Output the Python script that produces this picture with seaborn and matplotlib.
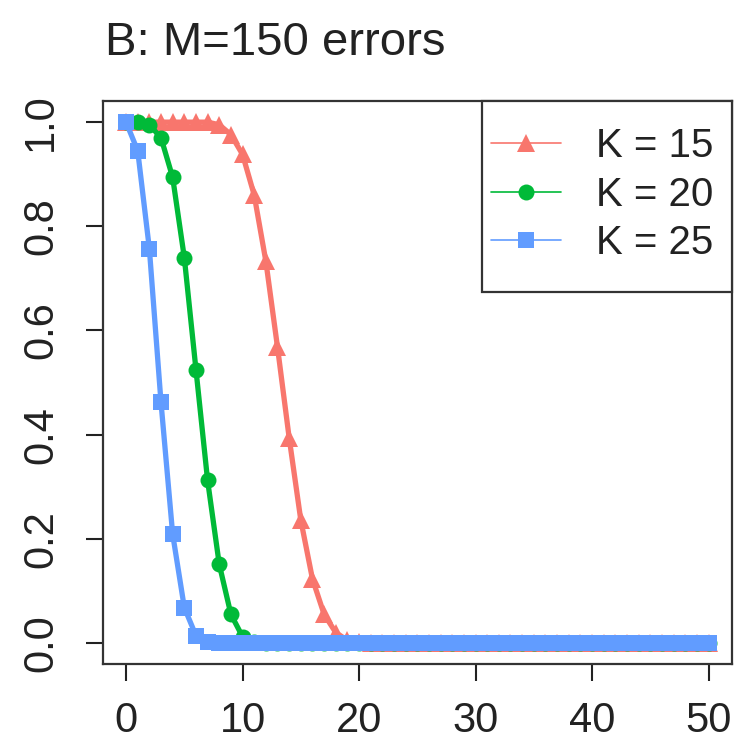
import numpy as np
import pandas as pd
import matplotlib
matplotlib.use("Agg")
import matplotlib.pyplot as plt
import seaborn as sns
from matplotlib.lines import Line2D
from matplotlib.patches import Rectangle

# ---- data ----
x_vals = list(range(0, 51))
k15 = [1.0, 1.0, 1.0, 1.0, 1.0, 1.0, 1.0, 1.0, 0.995, 0.976,
       0.938, 0.86, 0.733, 0.568, 0.394, 0.236, 0.123, 0.055, 0.02, 0.005,
       0.001, 0.0, 0.0, 0.0, 0.0, 0.0, 0.0, 0.0, 0.0, 0.0,
       0.0, 0.0, 0.0, 0.0, 0.0, 0.0, 0.0, 0.0, 0.0, 0.0,
       0.0, 0.0, 0.0, 0.0, 0.0, 0.0, 0.0, 0.0, 0.0, 0.0, 0.0]
k20 = [1.0, 1.0, 0.995, 0.97, 0.894, 0.74, 0.525, 0.312, 0.151, 0.055,
       0.012, 0.002, 0.0, 0.0, 0.0, 0.0, 0.0, 0.0, 0.0, 0.0,
       0.0, 0.0, 0.0, 0.0, 0.0, 0.0, 0.0, 0.0, 0.0, 0.0,
       0.0, 0.0, 0.0, 0.0, 0.0, 0.0, 0.0, 0.0, 0.0, 0.0,
       0.0, 0.0, 0.0, 0.0, 0.0, 0.0, 0.0, 0.0, 0.0, 0.0, 0.0]
k25 = [1.0, 0.945, 0.757, 0.462, 0.209, 0.068, 0.014, 0.002, 0.0, 0.0,
       0.0, 0.0, 0.0, 0.0, 0.0, 0.0, 0.0, 0.0, 0.0, 0.0,
       0.0, 0.0, 0.0, 0.0, 0.0, 0.0, 0.0, 0.0, 0.0, 0.0,
       0.0, 0.0, 0.0, 0.0, 0.0, 0.0, 0.0, 0.0, 0.0, 0.0,
       0.0, 0.0, 0.0, 0.0, 0.0, 0.0, 0.0, 0.0, 0.0, 0.0, 0.0]
series_labels = ["K = 15", "K = 20", "K = 25"]
x_ticks = [0, 10, 20, 30, 40, 50]
y_ticks = [0.0, 0.2, 0.4, 0.6, 0.8, 1.0]
title = "B: M=150 errors"

colors = ["#F8766D", "#00BA38", "#619CFF"]
markers = ["^", "o", "s"]
msizes = [13, 11.5, 11]

sns.set_theme(style="white")
plt.rcParams["font.family"] = ["Liberation Sans", "DejaVu Sans"]

df = pd.concat([
    pd.DataFrame({"x": x_vals, "y": vals, "K": lab})
    for vals, lab in zip([k15, k20, k25], series_labels)
], ignore_index=True)

fig = plt.figure(figsize=(7.34, 7.56), dpi=100)
ax = fig.add_axes([0.140, 0.122, 0.857, 0.744])

for i, lab in enumerate(series_labels):
    sub = df[df["K"] == lab]
    sns.lineplot(data=sub, x="x", y="y", ax=ax, color=colors[i],
                 marker=markers[i], markersize=msizes[i], markeredgewidth=0,
                 linewidth=3.8, zorder=3 + i, legend=False)

ax.set_xlim(-2, 52)
ax.set_ylim(-0.04, 1.04)
ax.set_xticks(x_ticks)
ax.set_xticklabels([str(t) for t in x_ticks], fontsize=30)
ax.set_yticks(y_ticks)
ax.set_yticklabels([f"{t:.1f}" for t in y_ticks], fontsize=30, rotation=90,
                   va="center")
ax.tick_params(axis="both", direction="out", length=12, width=1.5,
               color="#222222", labelcolor="#222222", bottom=True, left=True)
ax.tick_params(axis="x", pad=15)
ax.tick_params(axis="y", pad=18)
ax.set_xlabel("")
ax.set_ylabel("")
for sp in ax.spines.values():
    sp.set_linewidth(1.6)
    sp.set_color("#333333")
    sp.set_visible(True)

ax.set_title(title, loc="left", fontsize=34, color="#222222", pad=33,
             x=0.003)

# legend box
bx0 = 0.603
by0 = 0.661
ax.add_patch(Rectangle((bx0, by0), 1.0 - bx0, 1.0 - by0, transform=ax.transAxes,
                       facecolor="white", edgecolor="#333333", linewidth=1.6,
                       zorder=10, clip_on=False))
handles = [Line2D([0], [0], color=c, marker=m, markersize=s, markeredgewidth=0,
                  linewidth=1.2) for c, m, s in zip(colors, markers, msizes)]
leg = ax.legend(handles, series_labels, loc="center",
                bbox_to_anchor=(bx0 + (1.0 - bx0) / 2 - 0.008, by0 + (1.0 - by0) / 2 + 0.003),
                frameon=False, fontsize=29, handlelength=1.75,
                handletextpad=0.85, labelspacing=0.26, borderpad=0.0)
leg.set_zorder(11)
for t in leg.get_texts():
    t.set_color("#222222")

fig.savefig("out.png", dpi=100, facecolor="white")
